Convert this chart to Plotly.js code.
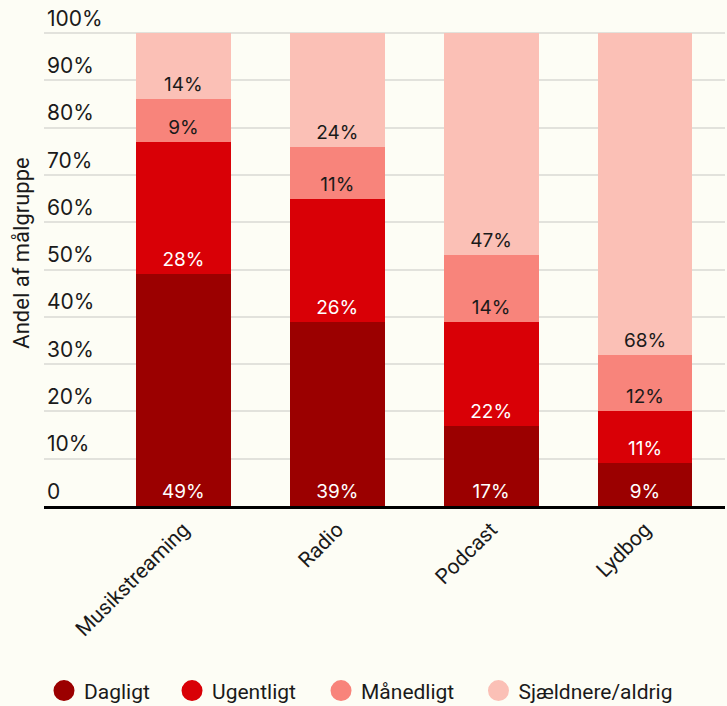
<!DOCTYPE html>
<html><head><meta charset="utf-8">
<script src="https://cdn.plot.ly/plotly-3.0.1.min.js"></script>
<style>html,body{margin:0;padding:0;background:#fdfdf5;}#chart{width:727px;height:706px;}</style>
</head><body><div id="chart"></div>
<script>
const categories = ["Musikstreaming", "Radio", "Podcast", "Lydbog"];
const seriesNames = ["Dagligt", "Ugentligt", "Månedligt", "Sjældnere/aldrig"];
const dagligt = [49, 39, 17, 9];
const ugentligt = [28, 26, 22, 11];
const maanedligt = [9, 11, 14, 12];
const sjaeldnere = [14, 24, 47, 68];
const yTickVals = [0, 10, 20, 30, 40, 50, 60, 70, 80, 90, 100];
const yTickText = ["0", "10%", "20%", "30%", "40%", "50%", "60%", "70%", "80%", "90%", "100%"];

const colors = ["#9b0000", "#d90006", "#f8847b", "#fbc0b6"];
const textColors = ["#ffffff", "#ffffff", "#1a1a1a", "#1a1a1a"];
const seriesValues = [dagligt, ugentligt, maanedligt, sjaeldnere];
const FONT = "Inter, 'Noto Sans', sans-serif";
const FONT2 = "Roboto, 'Liberation Sans', sans-serif";
const legendIds = ["legend", "legend2", "legend3", "legend4"];
const legendX = [0, 0.188, 0.4068, 0.638];

const traces = [];
seriesValues.forEach((vals, i) => {
  traces.push({
    type: "bar", x: categories, y: vals, name: seriesNames[i],
    marker: {color: colors[i], line: {width: 0}},
    text: vals.map(v => v + "%"), textposition: "inside", insidetextanchor: "start",
    textangle: 0, constraintext: "none",
    textfont: {family: FONT, size: 19, color: textColors[i]},
    hoverinfo: "skip", showlegend: false, width: 0.617
  });
});
seriesValues.forEach((vals, i) => {
  traces.push({
    type: "scatter", mode: "markers", x: [null], y: [null], name: seriesNames[i],
    legend: legendIds[i],
    marker: {color: colors[i], size: 16, symbol: "circle", line: {color: colors[i], width: 5}},
    showlegend: true
  });
});

const layout = {
  width: 727, height: 706,
  paper_bgcolor: "#fdfdf5", plot_bgcolor: "#fdfdf5",
  margin: {l: 44, r: 2, t: 0, b: 200, autoexpand: false},
  barmode: "stack", bargap: 0.383,
  font: {family: FONT, color: "#1a1a1a"},
  xaxis: {
    type: "category", range: [-0.906, 3.52], fixedrange: true,
    showline: true, linecolor: "#000", linewidth: 3, showgrid: false, zeroline: false,
    ticks: "", tickangle: -45, tickfont: {family: FONT2, size: 21, color: "#1a1a1a"}
  },
  yaxis: {
    range: [0, 107], fixedrange: true, tickmode: "array", tickvals: yTickVals, ticktext: yTickText,
    ticklabelposition: "inside top", ticks: "", showgrid: true, gridcolor: "#e2e2dc", gridwidth: 2,
    zeroline: false, showline: false, tickfont: {family: FONT, size: 21, color: "#1a1a1a"},
    title: {text: "Andel af målgruppe", font: {family: FONT2, size: 22, color: "#1a1a1a"}, standoff: 11}
  },
  showlegend: true
};
legendIds.forEach((id, i) => {
  layout[id] = {
    orientation: "h", x: legendX[i], xanchor: "left", y: -0.3655, yanchor: "middle",
    font: {family: FONT2, size: 21, color: "#1a1a1a"}, itemsizing: "trace",
    bgcolor: "rgba(0,0,0,0)", borderwidth: 0
  };
});

Plotly.newPlot("chart", traces, layout, {displayModeBar: false, staticPlot: true});
</script></body></html>
